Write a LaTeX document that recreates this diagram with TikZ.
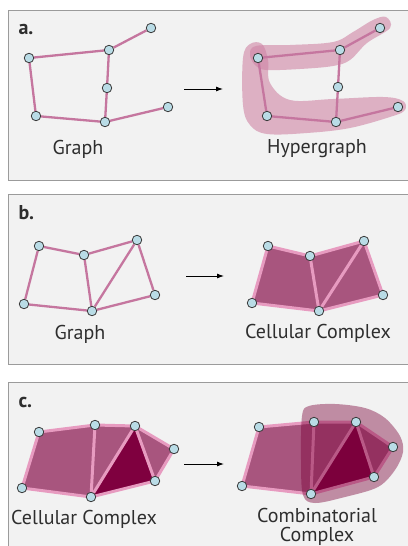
\documentclass[tikz,border=0pt]{standalone}
\usepackage{fontspec}
\setmainfont{PT Sans}
\usetikzlibrary{arrows.meta}
\definecolor{bgc}{HTML}{F2F2F2}
\definecolor{boxc}{HTML}{9B9B9B}
\definecolor{vfill}{HTML}{B9DCE6}
\definecolor{vline}{HTML}{3A3A3A}
\definecolor{gpink}{HTML}{C5769F}
\definecolor{hyp}{HTML}{CF84A5}
\definecolor{cellmid}{HTML}{A8557E}
\definecolor{celldark}{HTML}{7F003F}
\definecolor{lpink}{HTML}{E79BC0}
\definecolor{blobc}{HTML}{7A0038}
\definecolor{txt}{HTML}{2E2E2E}
\pgfdeclarelayer{panel}
\pgfdeclarelayer{cells}
\pgfdeclarelayer{edges}
\pgfdeclarelayer{blob}
\pgfsetlayers{panel,cells,edges,blob,main}
\begin{document}
\begin{tikzpicture}[x=1pt,y=-1pt,
  vtx/.style={circle,draw=vline,fill=vfill,line width=0.8pt,minimum size=9.5pt,inner sep=0pt},
  gedge/.style={draw=gpink,line width=2.3pt},
  cedge/.style={draw=lpink,line width=3pt,line join=round,line cap=round},
  hyperblob/.style={fill=hyp,fill opacity=0.6},
  ccblob/.style={fill=blobc,fill opacity=0.42},
  panelbox/.style={draw=boxc,fill=bgc,line width=1pt},
  lbl/.style={font=\fontsize{20}{19}\selectfont,text=txt,anchor=base,align=center},
  tag/.style={font=\fontsize{20}{20}\selectfont\bfseries,text=txt,anchor=base west},
  arr/.style={-{Latex[length=7pt,width=5pt]},line width=0.9pt,draw=black}
]
\useasboundingbox (0,0) rectangle (407,546);
\clip (0,0) rectangle (407,546);
\begin{pgfonlayer}{panel}
\fill[white] (0,0) rectangle (407,546);
\draw[panelbox] (8.5,10.5) rectangle (430,180);
\draw[panelbox] (8.5,194) rectangle (430,364);
\draw[panelbox] (8.5,382) rectangle (430,580);
\end{pgfonlayer}

% ---------- panel a ----------
\node[tag] (ta) at (15,34) {a.};
\node[vtx] (A1) at (29,58) {};
\node[vtx] (A2) at (109,50) {};
\node[vtx] (A3) at (151,28) {};
\node[vtx] (A4) at (107,88) {};
\node[vtx] (A5) at (36,116) {};
\node[vtx] (A6) at (105,122) {};
\node[vtx] (A7) at (168,107) {};
\node[vtx] (H1) at (258,58) {};
\node[vtx] (H2) at (340,50) {};
\node[vtx] (H3) at (380,28) {};
\node[vtx] (H4) at (338,87) {};
\node[vtx] (H5) at (267,116) {};
\node[vtx] (H6) at (336,122) {};
\node[vtx] (H7) at (398,107) {};
\begin{pgfonlayer}{edges}
\draw[gedge] (A1)--(A2) (A2)--(A3) (A2)--(A4) (A4)--(A6) (A1)--(A5) (A5)--(A6) (A6)--(A7);
\draw[gedge] (H1)--(H2) (H2)--(H3) (H2)--(H4) (H4)--(H6) (H1)--(H5) (H5)--(H6) (H6)--(H7);
\end{pgfonlayer}
\begin{pgfonlayer}{cells}
\fill[hyperblob] plot[smooth cycle,tension=0.6] coordinates {(250,44) (262,44) (268,60) (270,83) (290,100) (333,99) (383,97) (403,101) (405,110) (393,116) (350,128) (307,133) (267,134) (250,125) (243,105) (243,58)};
\fill[hyperblob] plot[smooth cycle,tension=0.6] coordinates {(256,46) (290,45) (333,42) (353,32) (373,20) (386,17) (390,28) (367,43) (350,60) (333,66) (300,69) (267,70) (256,66) (250,55)};
\end{pgfonlayer}
\coordinate (aA) at (184,89);
\coordinate (aB) at (223,89);
\draw[arr] (aA) -- (aB);
\node[lbl] (la1) at (78,154) {Graph};
\node[lbl] (la2) at (317,153) {Hypergraph};

% ---------- panel b ----------
\node[tag] (tb) at (15,219) {b.};
\node[vtx] (P1) at (39,246) {};
\node[vtx] (P2) at (84,255) {};
\node[vtx] (P3) at (137,240) {};
\node[vtx] (P4) at (24,304) {};
\node[vtx] (P5) at (92,311) {};
\node[vtx] (P6) at (155,295) {};
\node[vtx] (Q1) at (268,246) {};
\node[vtx] (Q2) at (310,256) {};
\node[vtx] (Q3) at (364,241) {};
\node[vtx] (Q4) at (252,303) {};
\node[vtx] (Q5) at (319,311) {};
\node[vtx] (Q6) at (383,295) {};
\begin{pgfonlayer}{edges}
\draw[gedge] (P1)--(P2) (P2)--(P3) (P1)--(P4) (P2)--(P5) (P3)--(P5) (P3)--(P6) (P4)--(P5) (P5)--(P6);
\draw[cedge] (Q1.center)--(Q2.center)--(Q3.center)--(Q6.center)--(Q5.center)--(Q4.center)--cycle;
\draw[cedge] (Q2.center)--(Q5.center) (Q3.center)--(Q5.center);
\end{pgfonlayer}
\begin{pgfonlayer}{cells}
\fill[cellmid] (Q1.center)--(Q2.center)--(Q3.center)--(Q6.center)--(Q5.center)--(Q4.center)--cycle;
\end{pgfonlayer}
\coordinate (bA) at (186,276);
\coordinate (bB) at (224,276);
\draw[arr] (bA) -- (bB);
\node[lbl] (lb1) at (80,339) {Graph};
\node[lbl] (lb2) at (318,338) {Cellular Complex};

% ---------- panel c ----------
\node[tag] (tc) at (15,407) {c.};
\node[vtx] (R1) at (39,432) {};
\node[vtx] (R2) at (95,425) {};
\node[vtx] (R3) at (135,426) {};
\node[vtx] (R4) at (174,449) {};
\node[vtx] (R5) at (22,488) {};
\node[vtx] (R6) at (91,497) {};
\node[vtx] (R7) at (155,481) {};
\node[vtx] (S1) at (259,427) {};
\node[vtx] (S2) at (314,422) {};
\node[vtx] (S3) at (356,422) {};
\node[vtx] (S4) at (393,447) {};
\node[vtx] (S5) at (242,486) {};
\node[vtx] (S6) at (311,494) {};
\node[vtx] (S7) at (374,477) {};
\begin{pgfonlayer}{cells}
\fill[cellmid] (R1.center)--(R2.center)--(R3.center)--(R4.center)--(R7.center)--(R6.center)--(R5.center)--cycle;
\fill[celldark] (R3.center)--(R7.center)--(R6.center)--cycle;
\fill[cellmid] (S1.center)--(S2.center)--(S3.center)--(S4.center)--(S7.center)--(S6.center)--(S5.center)--cycle;
\fill[celldark] (S3.center)--(S7.center)--(S6.center)--cycle;
\end{pgfonlayer}
\begin{pgfonlayer}{edges}
\draw[cedge] (R1.center)--(R2.center)--(R3.center)--(R4.center)--(R7.center)--(R6.center)--(R5.center)--cycle;
\draw[cedge] (R2.center)--(R6.center) (R3.center)--(R6.center) (R3.center)--(R7.center);
\draw[cedge] (S1.center)--(S2.center)--(S3.center)--(S4.center)--(S7.center)--(S6.center)--(S5.center)--cycle;
\draw[cedge] (S2.center)--(S6.center) (S3.center)--(S6.center) (S3.center)--(S7.center);
\end{pgfonlayer}
\begin{pgfonlayer}{blob}
\fill[ccblob] plot[smooth cycle,tension=0.55] coordinates {(302,416) (309,406) (335,404) (365,408) (385,418) (400,436) (403,452) (395,470) (378,487) (345,497) (315,503) (303,495) (301,460)};
\end{pgfonlayer}
\coordinate (cA) at (184,464);
\coordinate (cB) at (224,464);
\draw[arr] (cA) -- (cB);
\node[lbl] (lc1) at (84,524) {Cellular Complex};
\node[lbl,anchor=north] (lc2) at (317,505) {Combinatorial\\Complex};
\end{tikzpicture}
\end{document}
